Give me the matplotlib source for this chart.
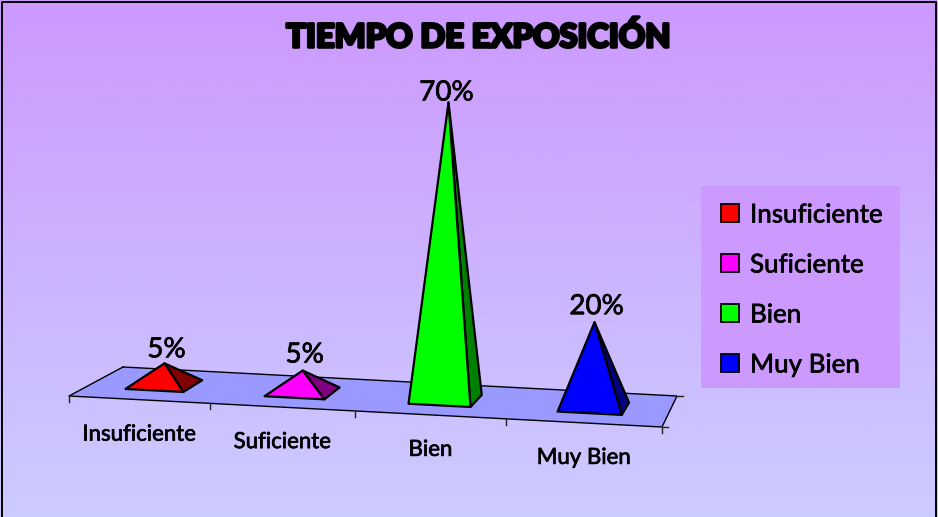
import numpy as np
import matplotlib
matplotlib.use("Agg")
import matplotlib.pyplot as plt
import matplotlib.patheffects as pe
from matplotlib.patches import Rectangle

title = "TIEMPO DE EXPOSICIÓN"
categories = ["Insuficiente", "Suficiente", "Bien", "Muy Bien"]
values = [5, 5, 70, 20]
face_colors = ["#FF0000", "#FF00FF", "#00FF00", "#0000FF"]
side_colors = ["#800000", "#800080", "#008000", "#000080"]
label_dx = [2, 2, -2, 2]
label_dy = [-14, -16, -10, -16]

FONT = "Lato"
W, H = 938, 517
fig = plt.figure(figsize=(W / 100, H / 100), dpi=100)
ax = fig.add_axes([0, 0, 1, 1])
ax.set_xlim(0, W)
ax.set_ylim(H, 0)
ax.axis("off")
thick = [pe.withStroke(linewidth=0.5, foreground="black")]

# background gradient + frame
grad = np.linspace(0, 1, 256)[:, None, None]
top, bot = np.array([0xCC, 0x99, 0xFF]) / 255, np.array([0xCC, 0xCC, 0xFF]) / 255
ax.imshow(top + (bot - top) * grad, extent=(0, W, H, 0), aspect="auto", zorder=0)
ax.plot([2, 2, 936, 936], [H, 1.5, 1.5, H], color="black", lw=1.4, zorder=1)

# floor perspective: unit (u categories, v depth) -> picture
src = [(0, 0), (4, 0), (4, 1), (0, 1)]
dst = [(69, 396), (662, 427), (677, 396), (123, 367)]
A, b = [], []
for (u, v), (x, y) in zip(src, dst):
    A.append([u, v, 1, 0, 0, 0, -u * x, -v * x]); b.append(x)
    A.append([0, 0, 0, u, v, 1, -u * y, -v * y]); b.append(y)
M = np.append(np.linalg.solve(np.array(A, float), np.array(b, float)), 1).reshape(3, 3)
WARP = -0.0171


def proj(u, v):
    uw = (1 + 4 * WARP) * u / (WARP * u + 1)
    p = M @ np.array([uw, v, 1.0])
    return p[:2] / p[2]


floor = np.array([proj(u, v) for u, v in src])
ax.fill(floor[:, 0], floor[:, 1], facecolor="#9999FF", edgecolor="none", zorder=2)
ax.plot(*floor[[3, 0, 1, 2, 3]].T, color="black", lw=1.0, zorder=3)
for i in range(len(categories) + 1):
    x, y = proj(i, 0)
    ax.plot([x, x], [y, y + 6], color="#222222", lw=1.0, zorder=3)
for u, v in [(4, 0), (4, 1)]:
    x, y = proj(u, v)
    ax.plot([x, x + 6], [y, y], color="#222222", lw=1.0, zorder=3)

# pyramids
SCALE, LEAN, GAP, V0, V1 = 4.24, 0.01, 0.29, 0.3, 0.7
for i, (val, fc, sc) in enumerate(zip(values, face_colors, side_colors)):
    fl = proj(i + GAP, V0)
    fr = proj(i + 1 - GAP, V0)
    br = proj(i + 1 - GAP, V1)
    cx, cy = proj(i + 0.5, 0.5)
    h = val * SCALE
    apex = np.array([cx + LEAN * h, cy - h])
    for pts, col in (((fr, br, apex), sc), ((fl, fr, apex), fc)):
        arr = np.array(pts)
        ax.fill(arr[:, 0], arr[:, 1], facecolor=col, edgecolor="black", lw=1.6,
                joinstyle="round", zorder=4)
    ax.text(apex[0] + label_dx[i], apex[1] + label_dy[i], f"{val}%", ha="center",
            va="center", fontsize=20, family=FONT, color="black", zorder=6,
            path_effects=thick)
    xm = (proj(i, 0)[0] + proj(i + 1, 0)[0]) / 2
    ym = proj(i + 0.5, 0)[1]
    ax.text(xm, ym + 35, categories[i], ha="center", va="center", fontsize=16,
            family=FONT, color="black", zorder=6, path_effects=thick)

# title
ax.text(478.5, 37, title, ha="center", va="center", fontsize=23.5, family=FONT,
        weight="black", color="black", zorder=6,
        path_effects=[pe.withStroke(linewidth=2.2, foreground="black")])

# legend
ax.add_patch(Rectangle((701, 186), 199, 202, facecolor="#CC99FF", edgecolor="none", zorder=5))
for i, (cat, fc) in enumerate(zip(categories, face_colors)):
    yc = 213 + 50 * i
    ax.add_patch(Rectangle((721, yc - 9), 18, 18, facecolor=fc, edgecolor="black", lw=1.3, zorder=6))
    ax.text(750, yc + 2, cat, ha="left", va="center", fontsize=18.7, family=FONT, color="black",
            zorder=6, path_effects=thick)

fig.savefig("out.png", dpi=100)
